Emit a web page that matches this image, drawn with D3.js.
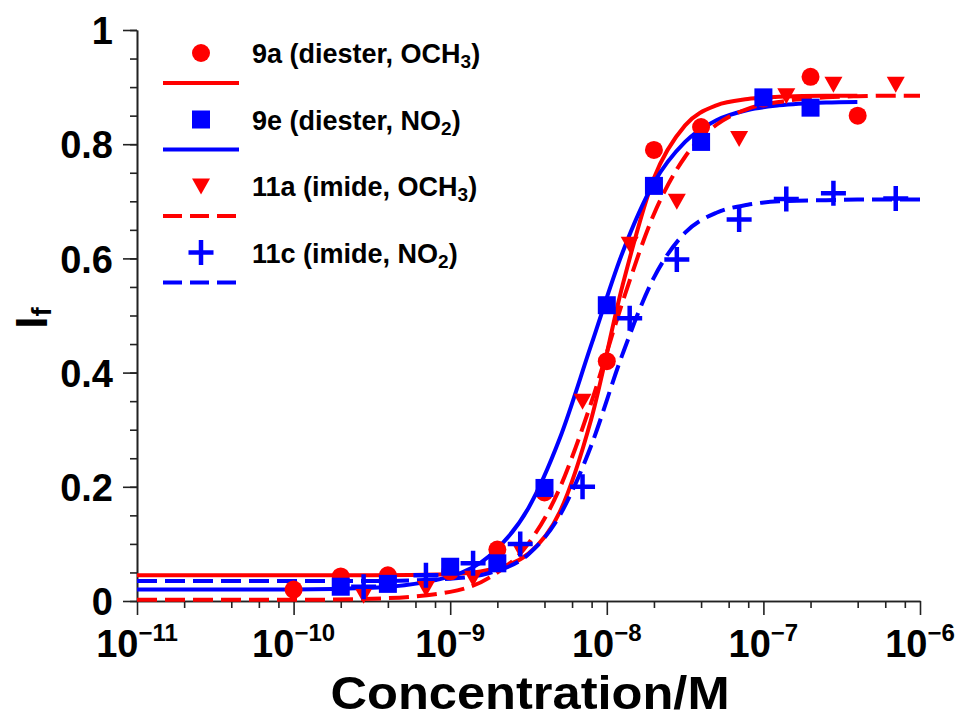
<!DOCTYPE html>
<html>
<head>
<meta charset="utf-8">
<script src="https://cdn.jsdelivr.net/npm/d3@7"></script>
<style>
body { margin: 0; background: #fff; }
text { font-family: "Liberation Sans", Arial, sans-serif; font-weight: bold; fill: #000; }
</style>
</head>
<body>
<div id="chart"></div>
<script>
// measured points (concentration in M, fluorescence intensity)
var conc9a = [1e-10, 2e-10, 4e-10, 1e-9, 2e-9, 4e-9, 1e-8, 2e-8, 4e-8, 1e-7, 2e-7, 4e-7];
var val9a  = [0.020, 0.043, 0.045, 0.052, 0.090, 0.190, 0.420, 0.790, 0.830, 0.880, 0.918, 0.850];
var conc9e = [2e-10, 4e-10, 1e-9, 2e-9, 4e-9, 1e-8, 2e-8, 4e-8, 1e-7, 2e-7];
var val9e  = [0.025, 0.030, 0.060, 0.066, 0.198, 0.518, 0.727, 0.804, 0.882, 0.864];
var conc11 = [2.8e-10, 7e-10, 1.4e-9, 2.8e-9, 7e-9, 1.4e-8, 2.8e-8, 7e-8, 1.4e-7, 2.8e-7, 7e-7];
var val11a = [0.010, 0.022, 0.040, 0.090, 0.350, 0.625, 0.700, 0.810, 0.885, 0.905, 0.905];
var val11c = [0.025, 0.045, 0.066, 0.100, 0.200, 0.495, 0.598, 0.668, 0.704, 0.714, 0.705];

// fitted curves (log10 of concentration)
var fitLog9  = [-11, -10, -9.5, -9, -8.75, -8.5, -8.3, -8.1, -7.9, -7.7, -7.5, -7.3, -7.1, -6.9, -6.6, -6.4];
var fitLog11 = [-11, -10, -9.5, -9, -8.75, -8.5, -8.3, -8.2, -8.1, -7.9, -7.7, -7.5, -7.3, -7.1, -6.9, -6.6, -6.4, -6.2, -6.0];
var fit9a  = [0.045, 0.045, 0.045, 0.047, 0.055, 0.083, 0.156, 0.318, 0.552, 0.740, 0.833, 0.868, 0.879, 0.883, 0.885, 0.885];
var fit9e  = [0.020, 0.020, 0.023, 0.043, 0.079, 0.163, 0.285, 0.448, 0.610, 0.732, 0.804, 0.842, 0.860, 0.868, 0.873, 0.874];
var fit11a = [0.002, 0.002, 0.004, 0.016, 0.041, 0.101, 0.198, 0.268, 0.347, 0.523, 0.677, 0.778, 0.834, 0.862, 0.874, 0.882, 0.884, 0.885, 0.885];
var fit11c = [0.035, 0.035, 0.035, 0.039, 0.049, 0.082, 0.150, 0.205, 0.272, 0.432, 0.566, 0.645, 0.680, 0.694, 0.700, 0.702, 0.703, 0.703, 0.703];

var xExps = [-11, -10, -9, -8, -7, -6];
var xMinorMult = [2, 4, 6, 8];
var yTicks = [0, 0.2, 0.4, 0.6, 0.8, 1];

var legendNames = [
  ["9a (diester, OCH", "3", ")"],
  ["9e (diester, NO", "2", ")"],
  ["11a (imide, OCH", "3", ")"],
  ["11c (imide, NO", "2", ")"]
];

var RED = "#ff0000", BLUE = "#0000ff";
var width = 965, height = 721;

var svg = d3.select("#chart").append("svg")
  .attr("width", width)
  .attr("height", height);

var xScale = d3.scaleLog().domain([1e-11, 1e-6]).range([137, 920]);
var yScale = d3.scaleLinear().domain([0, 1]).range([601, 30]);

// axes
var yMinor = d3.range(21).map(function(i) { return i * 0.05; });
var xMajor = xExps.map(function(e) { return Math.pow(10, e); });
var xMinor = [];
xExps.slice(0, -1).forEach(function(e) {
  xMinorMult.forEach(function(m) { xMinor.push(m * Math.pow(10, e)); });
});

function styleAxis(g) {
  g.selectAll("path, line").attr("stroke", "#222").attr("stroke-width", 1.6);
}

svg.append("g").attr("transform", "translate(137,0)")
  .call(d3.axisLeft(yScale).tickValues(yMinor).tickSize(7).tickSizeOuter(0).tickFormat(""))
  .call(styleAxis);
var yAx = svg.append("g").attr("transform", "translate(137,0)")
  .call(d3.axisLeft(yScale).tickValues(yTicks).tickSize(14).tickSizeOuter(0).tickPadding(10)
    .tickFormat(function(d) { return d; }))
  .call(styleAxis);
yAx.selectAll("text").style("font-size", "38px").attr("dy", "0.36em");

svg.append("g").attr("transform", "translate(0,601)")
  .call(d3.axisBottom(xScale).tickValues(xMinor).tickSize(7).tickSizeOuter(0).tickFormat(""))
  .call(styleAxis);
svg.append("g").attr("transform", "translate(0,601)")
  .call(d3.axisBottom(xScale).tickValues(xMajor).tickSize(14).tickSizeOuter(0).tickFormat(""))
  .call(styleAxis);

xExps.forEach(function(e) {
  var t = svg.append("text")
    .attr("x", xScale(Math.pow(10, e)))
    .attr("y", 657)
    .attr("text-anchor", "middle")
    .style("font-size", "38px");
  t.append("tspan").text("10");
  t.append("tspan").attr("dy", -16).style("font-size", "24px").text("\u2212" + Math.abs(e));
});

svg.append("text")
  .attr("transform", "translate(530,709) scale(1.1,1)")
  .attr("text-anchor", "middle")
  .style("font-size", "46px")
  .text("Concentration/M");

var yl = svg.append("text")
  .attr("transform", "translate(47,318) rotate(-90)")
  .attr("text-anchor", "middle")
  .style("font-size", "44px");
yl.append("tspan").text("I");
yl.append("tspan").attr("dy", 4).style("font-size", "28px").text("f");

// fitted curves
var line = d3.line()
  .x(function(d) { return xScale(Math.pow(10, d[0])); })
  .y(function(d) { return yScale(d[1]); })
  .curve(d3.curveMonotoneX);

function drawFit(xs, ys, color, dash) {
  svg.append("path")
    .attr("d", line(d3.zip(xs, ys)))
    .attr("fill", "none")
    .attr("stroke", color)
    .attr("stroke-width", 4)
    .attr("stroke-dasharray", dash ? "20,8" : null);
}
drawFit(fitLog9, fit9a, RED, false);
drawFit(fitLog9, fit9e, BLUE, false);
drawFit(fitLog11, fit11a, RED, true);
drawFit(fitLog11, fit11c, BLUE, true);

// markers
function marker(g, kind, cx, cy) {
  if (kind === "circle") {
    g.append("circle").attr("cx", cx).attr("cy", cy).attr("r", 9).attr("fill", RED);
  } else if (kind === "square") {
    g.append("rect").attr("x", cx - 9).attr("y", cy - 9).attr("width", 18).attr("height", 18).attr("fill", BLUE);
  } else if (kind === "tri") {
    g.append("path").attr("d", "M" + (cx - 9) + "," + (cy - 7.5) + "H" + (cx + 9) + "L" + cx + "," + (cy + 8.5) + "Z")
      .attr("fill", RED);
  } else {
    g.append("path").attr("d", "M" + (cx - 12.5) + "," + cy + "H" + (cx + 12.5) + "M" + cx + "," + (cy - 12.5) + "V" + (cy + 12.5))
      .attr("stroke", BLUE).attr("stroke-width", 4.5).attr("fill", "none");
  }
}

var pts = svg.append("g");
conc9a.forEach(function(c, i) { marker(pts, "circle", xScale(c), yScale(val9a[i])); });
conc9e.forEach(function(c, i) { marker(pts, "square", xScale(c), yScale(val9e[i])); });
conc11.forEach(function(c, i) { marker(pts, "tri", xScale(c), yScale(val11a[i])); });
conc11.forEach(function(c, i) { marker(pts, "cross", xScale(c), yScale(val11c[i])); });

// legend
var kinds = ["circle", "square", "tri", "cross"];
var lcolors = [RED, BLUE, RED, BLUE];
var lg = svg.append("g");
kinds.forEach(function(k, i) {
  var my = 53 + i * 66.5;
  marker(lg, k, 201, my);
  lg.append("line")
    .attr("x1", 163).attr("x2", 239)
    .attr("y1", my + 30).attr("y2", my + 30)
    .attr("stroke", lcolors[i]).attr("stroke-width", 4)
    .attr("stroke-dasharray", i >= 2 ? "19,8" : null);
  var t = lg.append("text").attr("x", 252).attr("y", my + 10).style("font-size", "27px");
  t.append("tspan").text(legendNames[i][0]);
  t.append("tspan").attr("dy", 5).style("font-size", "19px").text(legendNames[i][1]);
  t.append("tspan").attr("dy", -5).text(legendNames[i][2]);
});
</script>
</body>
</html>
